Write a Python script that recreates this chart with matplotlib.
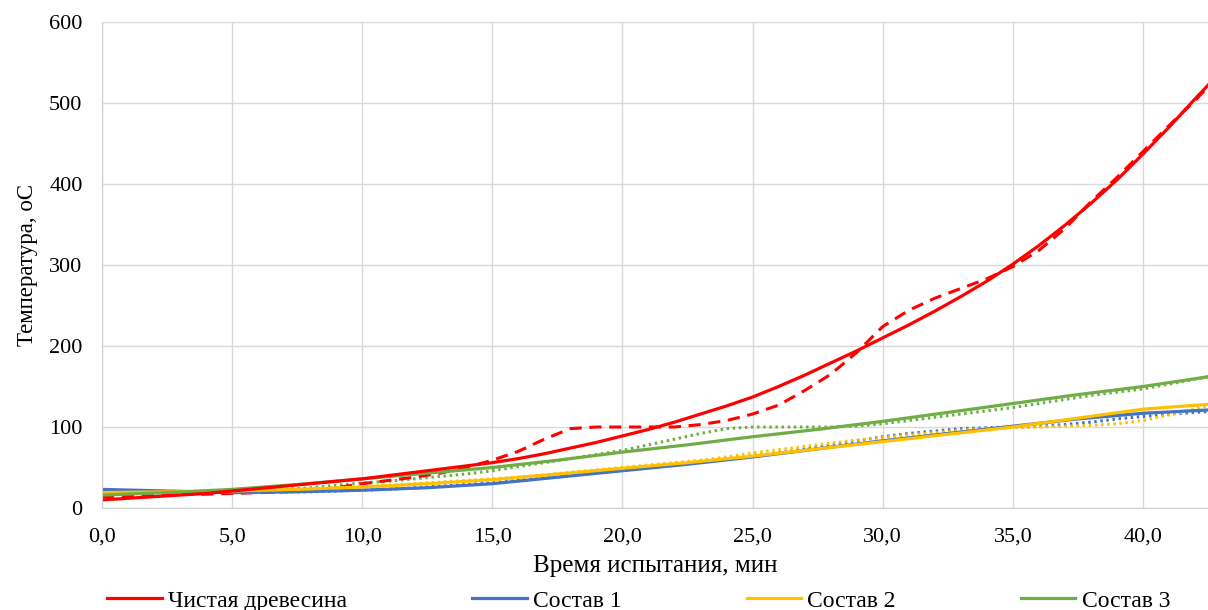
import matplotlib.pyplot as plt
import matplotlib.ticker as mticker

plt.rcParams["font.family"] = ["Liberation Serif", "DejaVu Serif"]

# trend line for clean wood (solid), read every minute
t_wood = list(range(0, 43)) + [42.5]
wood_trend = [10, 12, 14, 16, 18, 21, 24, 27, 30, 33, 36, 40, 44, 48, 52, 56, 61, 67, 74, 81,
              89, 97, 106, 116, 126, 137, 150, 164, 179, 194, 210, 226, 243, 261, 280, 301,
              324, 349, 376, 405, 437, 470, 505, 522]

# trend lines for compositions (solid), read every 2.5 min
t_trend = [0, 2.5, 5, 7.5, 10, 12.5, 15, 17.5, 20, 22.5, 25, 27.5, 30, 32.5, 35, 37.5, 40, 42.5]
s1_trend = [23, 21, 19, 20, 22, 25, 30, 38, 46, 54, 63, 73, 83, 92, 101, 110, 117, 121]
s2_trend = [19, 20, 21, 23, 26, 30, 35, 42, 49, 56, 64, 73, 82, 91, 100, 111, 122, 128]
s3_trend = [16, 19, 23, 29, 36, 43, 50, 59, 69, 78, 88, 97, 107, 118, 129, 140, 150, 162]

# measured data (dashed / dotted), every minute
t_data = list(range(0, 43)) + [42.5]
wood_data = [14, 15, 16, 17, 17, 18, 19, 20, 22, 25, 30, 34, 38, 43, 50, 59, 70, 85, 98, 100,
             100, 100, 100, 103, 108, 116, 127, 145, 165, 192, 224, 244, 259, 271, 283, 298,
             318, 345, 378, 408, 440, 472, 503, 520]
s1_data = [22, 21, 20, 20, 19, 19, 19, 20, 20, 21, 22, 23, 25, 27, 29, 31, 34, 37, 40, 44,
           47, 50, 53, 57, 60, 64, 68, 73, 78, 83, 88, 92, 95, 98, 99, 100, 101, 103, 106,
           110, 113, 116, 118, 119]
s2_data = [18, 19, 20, 20, 21, 21, 22, 22, 23, 24, 26, 28, 30, 32, 34, 36, 38, 41, 44, 47,
           50, 53, 56, 59, 63, 68, 72, 76, 80, 84, 87, 90, 93, 96, 98, 99, 100, 101, 102,
           104, 108, 115, 122, 126]
s3_data = [18, 18, 19, 19, 20, 21, 22, 23, 25, 28, 31, 33, 36, 39, 42, 46, 51, 56, 61, 66,
           71, 78, 85, 92, 98, 100, 100, 100, 100, 101, 104, 108, 112, 116, 120, 124, 129,
           134, 139, 143, 147, 153, 159, 162]

c_red = "#FF0000"
c_blue = "#4472C4"
c_yel = "#FFC000"
c_grn = "#70AD47"

fig = plt.figure(figsize=(12.08, 6.1), dpi=100)
ax = fig.add_axes([0.0844, 0.1672, 0.9156, 0.7967])

ax.plot(t_data, s1_data, color=c_blue, lw=2.2, ls=(0, (0.8, 1.2)))
ax.plot(t_data, s2_data, color=c_yel, lw=2.2, ls=(0, (0.8, 1.2)))
ax.plot(t_data, s3_data, color=c_grn, lw=2.2, ls=(0, (0.8, 1.2)))
ax.plot(t_data, wood_data, color=c_red, lw=2.2, ls=(0, (4, 2.5)))

ax.plot(t_trend, s1_trend, color=c_blue, lw=2.3, label="Состав 1")
ax.plot(t_trend, s2_trend, color=c_yel, lw=2.3, label="Состав 2")
ax.plot(t_trend, s3_trend, color=c_grn, lw=2.3, label="Состав 3")
ax.plot(t_wood, wood_trend, color=c_red, lw=2.3, label="Чистая древесина")

ax.set_xlim(0, 42.5)
ax.set_ylim(0, 600)
ax.set_xticks([0, 5, 10, 15, 20, 25, 30, 35, 40])
ax.xaxis.set_major_formatter(mticker.FuncFormatter(lambda v, p: f"{v:.1f}".replace(".", ",")))
ax.set_yticks(range(0, 601, 100))
ax.grid(True, color="#d9d9d9", lw=1)
ax.set_axisbelow(True)
for s in ["top", "right"]:
    ax.spines[s].set_visible(False)
for s in ["left", "bottom"]:
    ax.spines[s].set_color("#d0d0d0")
ax.tick_params(length=0, labelsize=16)
ax.tick_params(axis="x", pad=14)
ax.tick_params(axis="y", pad=14)

ax.set_xlabel("Время испытания, мин", fontsize=18, labelpad=6)
ax.set_ylabel("Температура, оС", fontsize=16.5, labelpad=8)

h, l = ax.get_legend_handles_labels()
order = [3, 0, 1, 2]
ax.legend([h[i] for i in order], [l[i] for i in order], ncol=4, frameon=False,
          loc="center left", bbox_to_anchor=(0.005, -0.191), fontsize=17,
          handlelength=2.3, handletextpad=0.27, columnspacing=5.3, borderpad=0,
          borderaxespad=0)

fig.savefig("out.png", dpi=100)
